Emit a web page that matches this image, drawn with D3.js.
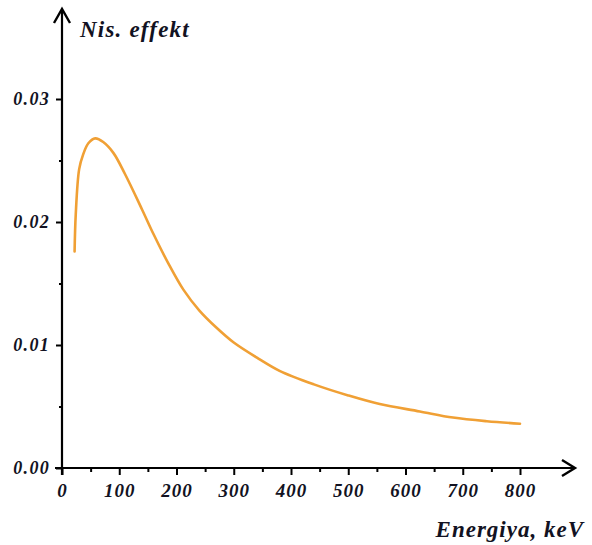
<!DOCTYPE html>
<html>
<head>
<meta charset="utf-8">
<script src="https://cdn.jsdelivr.net/npm/d3@7"></script>
<style>
  body { margin: 0; background: #fff; }
  svg text { font-family: "Liberation Serif", "Times New Roman", serif; font-weight: bold; font-style: italic; fill: #121222; }
</style>
</head>
<body>
<div id="chart"></div>
<script>
// Data
var energy = [22, 24, 30, 37, 46, 58, 72, 90, 110, 140, 160, 185, 212, 240, 270, 300, 343, 380, 440, 500, 555, 625, 683, 742, 800];
var effect = [0.0176, 0.0206, 0.0243, 0.0255, 0.0264, 0.0268, 0.0265, 0.0256, 0.0239, 0.0210, 0.0190, 0.0167, 0.0145, 0.0128, 0.0114, 0.0102, 0.0089, 0.0079, 0.0068, 0.0059, 0.0052, 0.0046, 0.0041, 0.0038, 0.0036];
var xTicks = [0, 100, 200, 300, 400, 500, 600, 700, 800];
var xMinor = [50, 150, 250, 350, 450, 550, 650, 750];
var yTicks = [0, 0.01, 0.02, 0.03];
var yMinor = [0.005, 0.015, 0.025];
var yTitle = "Nis. effekt";
var xTitle = "Energiya, keV";

var svgWidth = 592, svgHeight = 545;

var svg = d3.select("#chart")
  .append("svg")
  .attr("width", svgWidth)
  .attr("height", svgHeight);

// Scales
var xScale = d3.scaleLinear().domain([0, 800]).range([62, 520]);
var yScale = d3.scaleLinear().domain([0, 0.03]).range([468, 99]);

// Axis lines with open arrow heads
var axisColor = "#000";
svg.append("line")
  .attr("x1", 55).attr("x2", 574)
  .attr("y1", yScale(0)).attr("y2", yScale(0))
  .attr("stroke", axisColor).attr("stroke-width", 2.2);
svg.append("line")
  .attr("x1", xScale(0)).attr("x2", xScale(0))
  .attr("y1", yScale(0) + 7).attr("y2", 10)
  .attr("stroke", axisColor).attr("stroke-width", 2.2);

svg.append("path")
  .attr("d", `M562,${yScale(0) - 8} L575,${yScale(0)} L562,${yScale(0) + 8}`)
  .attr("fill", "none").attr("stroke", axisColor).attr("stroke-width", 2.4);
svg.append("path")
  .attr("d", `M${xScale(0) - 8},23 L${xScale(0)},9 L${xScale(0) + 8},23`)
  .attr("fill", "none").attr("stroke", axisColor).attr("stroke-width", 2.4);

// X axis ticks
var xAxis = d3.axisBottom(xScale).tickValues(xTicks).tickSize(7).tickPadding(9);
var xAxisG = svg.append("g")
  .attr("transform", `translate(0, ${yScale(0)})`)
  .call(xAxis);
xAxisG.select(".domain").remove();
xAxisG.selectAll("line").attr("stroke", axisColor).attr("stroke-width", 2);
xAxisG.selectAll("text")
  .attr("font-size", 19)
  .attr("fill", "#121222")
  .style("letter-spacing", "1px");

var xMinorG = svg.append("g")
  .attr("transform", `translate(0, ${yScale(0)})`)
  .call(d3.axisBottom(xScale).tickValues(xMinor).tickSize(4).tickFormat(""));
xMinorG.select(".domain").remove();
xMinorG.selectAll("line").attr("stroke", axisColor).attr("stroke-width", 2);

// Y axis ticks
var yAxis = d3.axisLeft(yScale).tickValues(yTicks).tickSize(6).tickPadding(6).tickFormat(d3.format(".2f"));
var yAxisG = svg.append("g")
  .attr("transform", `translate(${xScale(0)}, 0)`)
  .call(yAxis);
yAxisG.select(".domain").remove();
yAxisG.selectAll("line").attr("stroke", axisColor).attr("stroke-width", 2);
yAxisG.selectAll("text")
  .attr("font-size", 18)
  .attr("fill", "#121222")
  .style("letter-spacing", "1.3px");

var yMinorG = svg.append("g")
  .attr("transform", `translate(${xScale(0)}, 0)`)
  .call(d3.axisLeft(yScale).tickValues(yMinor).tickSize(3).tickFormat(""));
yMinorG.select(".domain").remove();
yMinorG.selectAll("line").attr("stroke", axisColor).attr("stroke-width", 2);

// Axis titles
svg.append("text")
  .attr("x", 80).attr("y", 37)
  .attr("font-size", 23)
  .style("letter-spacing", "1.2px")
  .text(yTitle);

svg.append("text")
  .attr("x", 584).attr("y", 537)
  .attr("text-anchor", "end")
  .attr("font-size", 23)
  .style("letter-spacing", "1px")
  .text(xTitle);

// Curve
var points = energy.map((e, i) => ({ e: e, v: effect[i] }));
var line = d3.line()
  .x(d => xScale(d.e))
  .y(d => yScale(d.v))
  .curve(d3.curveCatmullRom.alpha(0.5));

svg.append("path")
  .datum(points)
  .attr("d", line)
  .attr("fill", "none")
  .attr("stroke", "#f0a035")
  .attr("stroke-width", 2.6)
  .attr("stroke-linecap", "round");
</script>
</body>
</html>
